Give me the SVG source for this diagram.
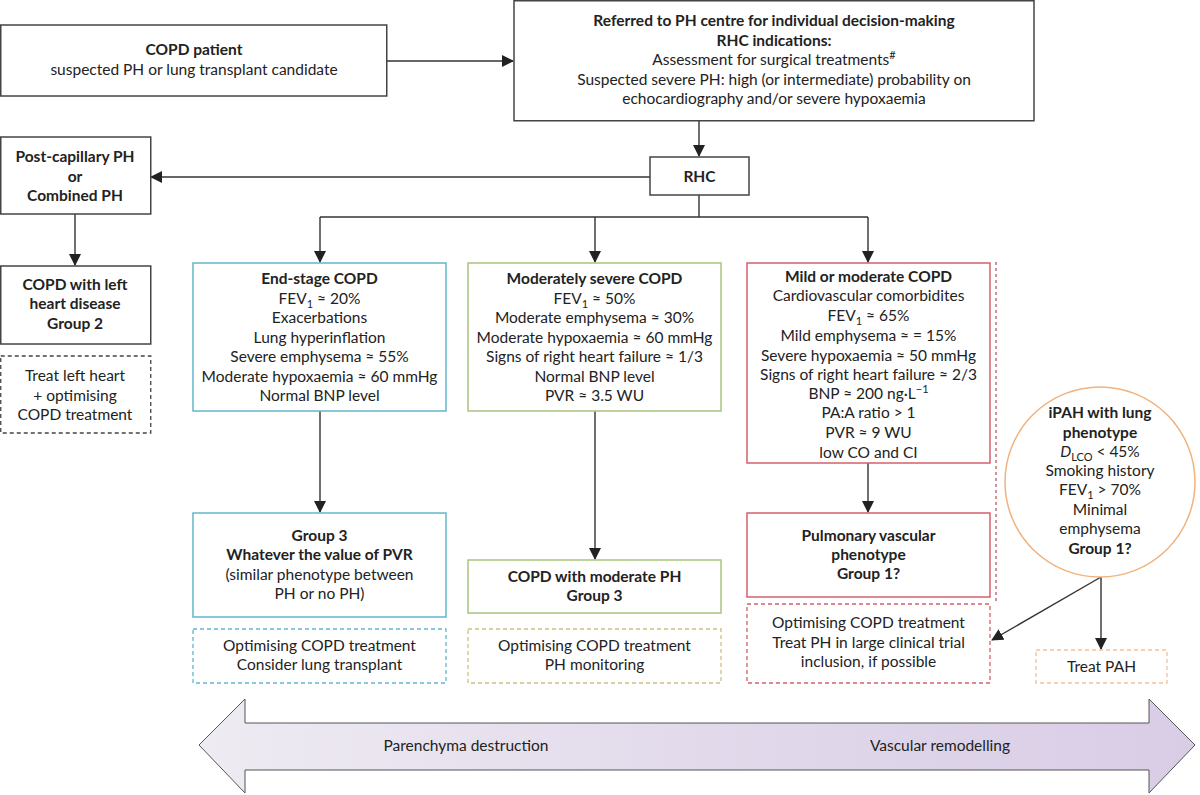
<svg xmlns="http://www.w3.org/2000/svg" width="1200" height="795" viewBox="0 0 1200 795">
<style>
text{font-family:Lato,"Liberation Sans",sans-serif;font-size:15.5px;fill:#222;text-anchor:middle}
.b{font-weight:bold}
.box{fill:#fff;stroke:#444;stroke-width:1.5}
.blue{fill:#fff;stroke:#62b6cb;stroke-width:1.5}
.green{fill:#fff;stroke:#a9c47c;stroke-width:1.5}
.red{fill:#fff;stroke:#d4606a;stroke-width:1.5}
.dk{fill:#fff;stroke:#444;stroke-width:1.3;stroke-dasharray:4 3}
.dblue{fill:#fff;stroke:#62b6cb;stroke-width:1.3;stroke-dasharray:4 3}
.dgreen{fill:#fff;stroke:#cfc07e;stroke-width:1.3;stroke-dasharray:4 3}
.dred{fill:#fff;stroke:#d4606a;stroke-width:1.3;stroke-dasharray:4 3}
.dorange{fill:#fff;stroke:#f2c19a;stroke-width:1.3;stroke-dasharray:4 3}
.ln{fill:none;stroke:#333;stroke-width:1.4}
.sub{font-size:11px}
</style>
<defs>
<marker id="ah" markerWidth="12" markerHeight="12" refX="11" refY="6" orient="auto" markerUnits="userSpaceOnUse">
<path d="M0,0 L12,6 L0,12 Z" fill="#222"/>
</marker>
<linearGradient id="grad" x1="0" y1="0" x2="1" y2="0">
<stop offset="0" stop-color="#eeebf2"/>
<stop offset="0.6" stop-color="#e0d7ea"/>
<stop offset="1" stop-color="#d9cde6"/>
</linearGradient>
</defs>

<g id="connectors">
<line class="ln" x1="387" y1="61" x2="513" y2="61" marker-end="url(#ah)"/>
<line class="ln" x1="699" y1="121" x2="699" y2="156" marker-end="url(#ah)"/>
<line class="ln" x1="650" y1="177" x2="151" y2="177" marker-end="url(#ah)"/>
<polyline class="ln" points="699,195 699,217"/>
<line class="ln" x1="320" y1="217" x2="868" y2="217"/>
<line class="ln" x1="320" y1="217" x2="320" y2="262" marker-end="url(#ah)"/>
<line class="ln" x1="595" y1="217" x2="595" y2="262" marker-end="url(#ah)"/>
<line class="ln" x1="868" y1="217" x2="868" y2="262" marker-end="url(#ah)"/>
<line class="ln" x1="75" y1="214" x2="75" y2="265" marker-end="url(#ah)"/>
<line class="ln" x1="320" y1="411" x2="320" y2="512" marker-end="url(#ah)"/>
<line class="ln" x1="595" y1="411" x2="595" y2="559" marker-end="url(#ah)"/>
<line class="ln" x1="868" y1="463" x2="868" y2="512" marker-end="url(#ah)"/>
<line class="ln" x1="1101" y1="577" x2="1101" y2="649" marker-end="url(#ah)"/>
<line class="ln" x1="1101" y1="577" x2="992" y2="640" marker-end="url(#ah)"/>
<line x1="996" y1="262" x2="996" y2="604" stroke="#b85a64" stroke-width="1.3" stroke-dasharray="3 3"/>
</g>

<g id="copd-patient">
<rect class="box" x="0.75" y="25" width="386" height="71"/>
<text class="b" x="194" y="55">COPD patient</text>
<text x="194" y="75">suspected PH or lung transplant candidate</text>
</g>

<g id="referred">
<rect class="box" x="514" y="0.75" width="520" height="120"/>
<text class="b" x="774" y="26">Referred to PH centre for individual decision-making</text>
<text class="b" x="774" y="46">RHC indications:</text>
<text x="774" y="65">Assessment for surgical treatments<tspan class="sub" dy="-6">#</tspan></text>
<text x="774" y="85">Suspected severe PH: high (or intermediate) probability on</text>
<text x="774" y="104">echocardiography and/or severe hypoxaemia</text>
</g>

<g id="rhc">
<rect class="box" x="650" y="157" width="99" height="38"/>
<text class="b" x="699.5" y="182">RHC</text>
</g>

<g id="postcap">
<rect class="box" x="0.75" y="137" width="150" height="77"/>
<text class="b" x="75" y="162">Post-capillary PH</text>
<text class="b" x="75" y="182">or</text>
<text class="b" x="75" y="201">Combined PH</text>
</g>

<g id="left-heart">
<rect class="box" x="0.75" y="266" width="150" height="78"/>
<text class="b" x="75" y="290">COPD with left</text>
<text class="b" x="75" y="309">heart disease</text>
<text class="b" x="75" y="329">Group 2</text>
</g>

<g id="treat-left">
<rect class="dk" x="0.75" y="356" width="150" height="77"/>
<text x="75" y="381">Treat left heart</text>
<text x="75" y="401">+ optimising</text>
<text x="75" y="420">COPD treatment</text>
</g>

<g id="end-stage">
<rect class="blue" x="193" y="263" width="253" height="148"/>
<text class="b" x="319.5" y="284">End-stage COPD</text>
<text x="319.5" y="304">FEV<tspan class="sub" dy="4">1</tspan><tspan dy="-4"> ≈ 20%</tspan></text>
<text x="319.5" y="323">Exacerbations</text>
<text x="319.5" y="343">Lung hyperinflation</text>
<text x="319.5" y="362">Severe emphysema ≈ 55%</text>
<text x="319.5" y="382">Moderate hypoxaemia ≈ 60 mmHg</text>
<text x="319.5" y="401">Normal BNP level</text>
</g>

<g id="moderately-severe">
<rect class="green" x="468" y="263" width="253" height="148"/>
<text class="b" x="594.5" y="284">Moderately severe COPD</text>
<text x="594.5" y="304">FEV<tspan class="sub" dy="4">1</tspan><tspan dy="-4"> ≈ 50%</tspan></text>
<text x="594.5" y="323">Moderate emphysema ≈ 30%</text>
<text x="594.5" y="343">Moderate hypoxaemia ≈ 60 mmHg</text>
<text x="594.5" y="362">Signs of right heart failure ≈ 1/3</text>
<text x="594.5" y="382">Normal BNP level</text>
<text x="594.5" y="401">PVR ≈ 3.5 WU</text>
</g>

<g id="mild">
<rect class="red" x="747" y="263" width="243" height="200"/>
<text class="b" x="868.5" y="282">Mild or moderate COPD</text>
<text x="868.5" y="301">Cardiovascular comorbidites</text>
<text x="868.5" y="321">FEV<tspan class="sub" dy="4">1</tspan><tspan dy="-4"> ≈ 65%</tspan></text>
<text x="868.5" y="341">Mild emphysema ≈ = 15%</text>
<text x="868.5" y="361">Severe hypoxaemia ≈ 50 mmHg</text>
<text x="868.5" y="380">Signs of right heart failure ≈ 2/3</text>
<text x="868.5" y="399">BNP ≈ 200 ng·L<tspan class="sub" dy="-6">−1</tspan></text>
<text x="868.5" y="418">PA:A ratio &gt; 1</text>
<text x="868.5" y="438">PVR ≈ 9 WU</text>
<text x="868.5" y="458">low CO and CI</text>
</g>

<g id="group3-end">
<rect class="blue" x="193" y="513" width="253" height="104"/>
<text class="b" x="319.5" y="541">Group 3</text>
<text class="b" x="319.5" y="560">Whatever the value of PVR</text>
<text x="319.5" y="580">(similar phenotype between</text>
<text x="319.5" y="599">PH or no PH)</text>
</g>

<g id="moderate-ph">
<rect class="green" x="468" y="560" width="253" height="53"/>
<text class="b" x="594.5" y="582">COPD with moderate PH</text>
<text class="b" x="594.5" y="601">Group 3</text>
</g>

<g id="pulmonary-vascular">
<rect class="red" x="747" y="513" width="243" height="84"/>
<text class="b" x="868.5" y="541">Pulmonary vascular</text>
<text class="b" x="868.5" y="560">phenotype</text>
<text class="b" x="868.5" y="579">Group 1?</text>
</g>

<g id="treat-end">
<rect class="dblue" x="193" y="629" width="253" height="54"/>
<text x="319.5" y="651">Optimising COPD treatment</text>
<text x="319.5" y="670">Consider lung transplant</text>
</g>

<g id="treat-moderate">
<rect class="dgreen" x="468" y="629" width="253" height="54"/>
<text x="594.5" y="651">Optimising COPD treatment</text>
<text x="594.5" y="670">PH monitoring</text>
</g>

<g id="treat-mild">
<rect class="dred" x="747" y="604" width="243" height="79"/>
<text x="868.5" y="628">Optimising COPD treatment</text>
<text x="868.5" y="648">Treat PH in large clinical trial</text>
<text x="868.5" y="667">inclusion, if possible</text>
</g>

<g id="ipah">
<circle cx="1100" cy="482" r="95" fill="#fff" stroke="#f0b27e" stroke-width="1.5"/>
<text class="b" x="1100" y="418">iPAH with lung</text>
<text class="b" x="1100" y="438">phenotype</text>
<text x="1100" y="457"><tspan font-style="italic">D</tspan><tspan class="sub" dy="4">LCO</tspan><tspan dy="-4"> &lt; 45%</tspan></text>
<text x="1100" y="476">Smoking history</text>
<text x="1100" y="495">FEV<tspan class="sub" dy="4">1</tspan><tspan dy="-4"> &gt; 70%</tspan></text>
<text x="1100" y="515">Minimal</text>
<text x="1100" y="534">emphysema</text>
<text class="b" x="1100" y="554">Group 1?</text>
</g>

<g id="treat-pah">
<rect class="dorange" x="1036" y="650" width="131" height="33"/>
<text x="1101.5" y="672">Treat PAH</text>
</g>

<g id="spectrum">
<polygon points="199,745 245,699 245,723 1149,723 1149,699 1195,745 1149,793 1149,770 245,770 245,793" fill="url(#grad)" stroke="#555" stroke-width="1"/>
<text x="466" y="751" font-size="14.5px">Parenchyma destruction</text>
<text x="940" y="751" font-size="14.5px">Vascular remodelling</text>
</g>
</svg>
